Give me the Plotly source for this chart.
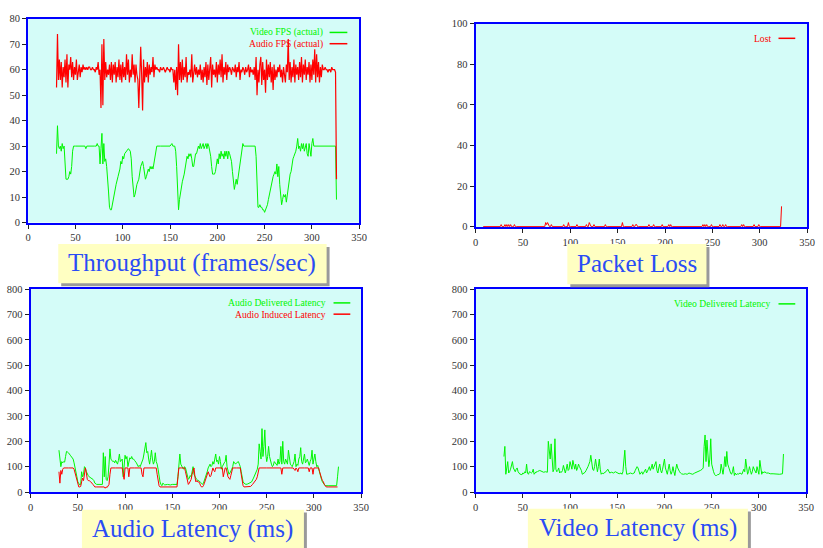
import plotly.graph_objects as go

# ---------------- data ----------------
audio_fps_t = list(range(30, 327))
audio_fps = [
    53, 74, 56, 64, 56, 63, 53, 61, 57, 64,
    55, 66, 53, 62, 60, 65, 57, 63, 56, 61,
    58, 64, 56, 60, 62, 57, 61, 59, 62, 60,
    61, 60, 61, 60, 61, 61, 60, 60, 61, 60,
    60, 59, 61, 60, 63, 58, 60, 45, 70, 46,
    72, 56, 63, 57, 60, 58, 62, 56, 63, 55,
    62, 58, 63, 55, 61, 57, 64, 56, 62, 55,
    63, 57, 61, 56, 66, 58, 64, 55, 60, 57,
    66, 58, 62, 55, 62, 58, 56, 45, 60, 69,
    58, 44, 64, 55, 61, 57, 63, 55, 62, 58,
    61, 59, 65, 57, 62, 60, 61, 60, 60, 59,
    61, 60, 60, 61, 60, 59, 60, 61, 60, 60,
    59, 61, 60, 60, 55, 60, 52, 61, 50, 70,
    56, 63, 55, 64, 56, 61, 57, 65, 55, 59,
    58, 60, 57, 66, 55, 60, 62, 58, 61, 57,
    60, 58, 62, 56, 60, 55, 61, 57, 63, 54,
    62, 56, 60, 65, 53, 62, 58, 60, 57, 63,
    55, 62, 58, 64, 57, 66, 55, 61, 58, 63,
    56, 62, 59, 61, 60, 58, 61, 60, 59, 62,
    57, 61, 59, 63, 56, 60, 59, 61, 60, 58,
    61, 59, 60, 62, 57, 61, 59, 60, 58, 61,
    56, 65, 50, 60, 55, 62, 65, 54, 63, 56,
    60, 51, 64, 56, 62, 57, 63, 55, 61, 52,
    62, 56, 60, 57, 61, 59, 62, 57, 60, 55,
    61, 58, 55, 62, 59, 72, 56, 63, 55, 61,
    57, 64, 55, 62, 58, 61, 56, 63, 57, 65,
    55, 62, 58, 64, 56, 61, 58, 63, 55, 62,
    56, 64, 58, 68, 55, 66, 57, 63, 55, 61,
    57, 62, 60, 60, 61, 60, 60, 59, 60, 60,
    59, 61, 60, 60, 60, 59, 17,
]

video_fps_t = [
    30, 31, 32, 33, 34, 35, 36, 37, 38, 39, 40, 41, 42, 43, 44, 45, 46, 47, 48, 50,
    55, 60, 61, 62, 70, 72, 73, 74, 75, 76, 77, 78, 79, 80, 81, 82, 83, 84, 85, 86,
    87, 88, 89, 90, 91, 93, 95, 97, 98, 99, 100, 101, 102, 104, 106, 108, 109, 110, 111, 112,
    113, 115, 117, 118, 119, 120, 121, 122, 123, 124, 125, 126, 127, 128, 129, 130, 131, 132, 133, 134,
    135, 136, 140, 145, 150, 152, 153, 155, 156, 157, 158, 159, 160, 161, 162, 163, 165, 166, 167, 168,
    169, 170, 171, 172, 173, 174, 175, 176, 177, 178, 179, 180, 181, 182, 183, 184, 185, 186, 187, 188,
    189, 190, 191, 192, 193, 194, 195, 196, 197, 198, 199, 200, 201, 202, 203, 204, 205, 206, 207, 208,
    209, 210, 211, 212, 213, 214, 215, 216, 217, 218, 219, 220, 221, 222, 223, 224, 225, 226, 227, 228,
    235, 240, 241, 242, 243, 244, 245, 246, 247, 248, 249, 250, 251, 252, 253, 254, 255, 256, 257, 258,
    259, 260, 261, 262, 263, 264, 265, 266, 267, 268, 269, 270, 271, 272, 273, 274, 275, 276, 277, 278,
    279, 280, 281, 282, 283, 284, 285, 286, 287, 288, 289, 290, 291, 292, 293, 294, 295, 296, 297, 298,
    299, 300, 301, 302, 310, 320, 325, 326,
]
video_fps = [
    27, 38, 30, 29, 30, 28, 31, 29, 30, 22, 17, 17, 17, 18, 20, 19, 22, 28, 30, 30,
    30, 30, 29, 30, 30, 30, 31, 30, 30, 23, 29, 35, 23, 31, 24, 25, 22, 18, 12, 6,
    5, 5, 7, 10, 12, 15, 18, 21, 24, 23, 26, 25, 27, 28, 29, 28, 25, 18, 13, 10,
    11, 15, 17, 20, 22, 23, 24, 22, 18, 17, 18, 20, 21, 20, 22, 21, 22, 21, 23, 25,
    28, 30, 30, 30, 30, 31, 30, 30, 28, 22, 12, 5, 9, 12, 14, 16, 19, 22, 25, 26,
    25, 27, 26, 27, 25, 22, 22, 25, 27, 27, 29, 30, 29, 31, 29, 30, 31, 29, 30, 31,
    29, 31, 30, 28, 26, 22, 19, 19, 19, 20, 22, 25, 23, 27, 25, 28, 26, 27, 25, 28,
    26, 28, 25, 28, 27, 25, 24, 20, 16, 13, 15, 17, 15, 18, 20, 22, 25, 28, 31, 30,
    30, 30, 26, 15, 6, 6, 7, 6, 6, 5, 5, 4, 5, 6, 7, 9, 11, 12, 14, 16,
    18, 19, 20, 19, 23, 18, 22, 15, 10, 7, 9, 11, 10, 11, 8, 11, 14, 17, 19, 20,
    23, 25, 26, 27, 28, 30, 33, 29, 30, 28, 31, 29, 31, 28, 30, 31, 27, 26, 31, 29,
    26, 31, 33, 30, 30, 30, 30, 9,
]

loss_start, loss_end = 8, 323
loss_spike_t = [27, 31, 33, 35, 37, 41, 74, 75, 76, 77, 80, 93, 98, 107, 117, 120, 121, 125, 137, 155,
                166, 169, 170, 183, 188, 197, 204, 206, 240, 242, 244, 249, 258, 261, 264, 281, 283, 294, 299, 323]
loss_spike_v = [1, 1, 1, 1, 1, 1, 2, 1, 2, 1, 1, 1, 2, 1, 1, 2, 1, 1, 1, 2,
                1, 1, 1, 1, 1, 1, 1, 1, 1, 1, 1, 1, 1, 1, 1, 1, 1, 1, 1, 10]

aud_del_t = [
    30, 31, 32, 33, 34, 35, 36, 37, 38, 39, 40, 42, 43, 44, 45, 46, 47, 48, 49, 50,
    51, 52, 53, 54, 55, 56, 57, 58, 59, 60, 61, 62, 63, 64, 65, 66, 67, 68, 70, 72,
    74, 75, 76, 77, 78, 79, 80, 81, 82, 83, 84, 85, 86, 87, 88, 89, 90, 91, 92, 93,
    94, 95, 96, 97, 98, 99, 100, 101, 102, 103, 104, 105, 106, 107, 108, 109, 110, 112, 114, 115,
    116, 117, 118, 119, 120, 121, 122, 123, 124, 125, 126, 127, 128, 129, 130, 131, 132, 133, 134, 135,
    136, 137, 138, 139, 140, 142, 145, 148, 150, 152, 154, 155, 156, 157, 158, 159, 160, 161, 162, 163,
    164, 165, 166, 167, 168, 169, 170, 171, 172, 173, 174, 175, 176, 177, 178, 179, 180, 181, 182, 183,
    184, 185, 186, 187, 188, 189, 190, 191, 192, 193, 194, 195, 196, 197, 198, 199, 200, 201, 202, 203,
    204, 205, 206, 207, 208, 209, 210, 211, 212, 213, 214, 215, 216, 217, 218, 219, 220, 221, 222, 223,
    224, 225, 226, 228, 230, 232, 234, 236, 238, 240, 241, 242, 243, 244, 245, 246, 247, 248, 249, 250,
    251, 252, 253, 254, 255, 256, 257, 258, 259, 260, 261, 262, 263, 264, 265, 266, 267, 268, 269, 270,
    271, 272, 273, 274, 275, 276, 277, 278, 279, 280, 281, 282, 283, 284, 285, 286, 287, 288, 289, 290,
    291, 292, 293, 294, 295, 296, 297, 298, 299, 300, 301, 302, 303, 304, 305, 306, 307, 308, 309, 310,
    311, 312, 315, 318, 320, 322, 324, 325, 326,
]
aud_del = [
    165, 130, 100, 120, 115, 120, 118, 140, 160, 158, 155, 145, 140, 135, 130, 115, 100, 80, 60, 40,
    30, 28, 30, 80, 60, 70, 100, 95, 80, 70, 65, 60, 58, 55, 55, 50, 45, 35, 30, 30,
    30, 32, 30, 155, 60, 140, 50, 45, 60, 110, 170, 130, 125, 120, 122, 115, 125, 115, 110, 125,
    150, 120, 125, 130, 60, 110, 145, 130, 140, 100, 125, 135, 130, 140, 130, 130, 125, 115, 100, 105,
    100, 110, 120, 130, 150, 170, 195, 155, 160, 130, 110, 135, 165, 130, 110, 120, 155, 120, 110, 90,
    55, 40, 30, 25, 35, 28, 30, 28, 30, 30, 28, 30, 60, 120, 150, 110, 100, 95, 90, 100,
    95, 80, 60, 50, 55, 65, 60, 80, 100, 70, 60, 55, 50, 45, 45, 40, 38, 35, 30, 35,
    45, 60, 70, 80, 95, 100, 110, 100, 105, 120, 110, 130, 150, 120, 125, 110, 140, 120, 90, 100,
    110, 115, 120, 145, 100, 85, 70, 75, 80, 90, 100, 120, 115, 110, 115, 118, 120, 110, 100, 80,
    55, 40, 35, 30, 32, 35, 40, 55, 75, 90, 110, 190, 160, 130, 250, 140, 180, 245, 150, 120,
    140, 180, 140, 120, 110, 100, 105, 120, 115, 110, 105, 130, 110, 120, 180, 110, 200, 120, 110, 130,
    115, 110, 165, 120, 110, 105, 100, 110, 120, 150, 100, 110, 105, 130, 140, 175, 120, 110, 130, 150,
    115, 120, 130, 110, 105, 120, 130, 165, 110, 130, 150, 120, 100, 105, 90, 70, 60, 50, 40, 35,
    30, 25, 25, 25, 24, 25, 25, 60, 100,
]

aud_ind_t = [
    30, 31, 32, 33, 34, 35, 40, 45, 46, 47, 48, 49, 50, 51, 52, 53, 54, 55, 56, 57,
    58, 59, 60, 61, 62, 63, 64, 65, 66, 67, 68, 70, 75, 78, 79, 80, 81, 82, 83, 84,
    85, 90, 97, 98, 99, 100, 103, 104, 105, 110, 117, 118, 119, 120, 125, 130, 133, 134, 135, 136,
    137, 140, 145, 150, 155, 156, 157, 160, 163, 164, 165, 166, 167, 168, 169, 170, 171, 172, 173, 174,
    175, 176, 177, 178, 179, 180, 181, 182, 183, 184, 185, 186, 187, 188, 189, 190, 191, 192, 193, 194,
    195, 196, 200, 203, 204, 205, 206, 207, 208, 209, 210, 211, 212, 213, 214, 218, 222, 223, 224, 225,
    226, 230, 233, 235, 237, 239, 240, 241, 242, 250, 260, 265, 266, 267, 275, 278, 279, 280, 281, 282,
    283, 284, 290, 294, 295, 296, 298, 299, 300, 305, 306, 307, 308, 309, 310, 311, 312, 313, 315, 320,
    325,
]
aud_ind = [
    80, 35, 85, 70, 90, 95, 95, 95, 90, 75, 60, 40, 25, 20, 20, 22, 40, 55, 45, 70,
    95, 75, 50, 45, 45, 42, 40, 35, 30, 25, 20, 20, 20, 20, 15, 20, 18, 25, 30, 70,
    95, 95, 95, 70, 50, 95, 95, 60, 95, 95, 95, 70, 60, 95, 95, 95, 95, 70, 45, 25,
    20, 20, 20, 20, 20, 60, 95, 95, 95, 80, 60, 40, 30, 35, 45, 50, 70, 85, 95, 60,
    40, 45, 40, 40, 35, 25, 20, 20, 25, 35, 45, 55, 65, 80, 70, 60, 65, 80, 95, 85,
    80, 95, 95, 95, 60, 80, 95, 95, 70, 60, 55, 50, 65, 80, 95, 95, 95, 70, 40, 25,
    20, 20, 22, 30, 40, 50, 60, 80, 95, 95, 95, 95, 70, 95, 95, 95, 90, 85, 95, 90,
    80, 95, 95, 95, 80, 95, 95, 70, 95, 95, 80, 60, 55, 45, 40, 30, 25, 20, 20, 20,
    20,
]

vid_del_t = [
    30, 31, 32, 33, 34, 35, 36, 37, 38, 39, 40, 41, 42, 43, 44, 45, 46, 47, 48, 49,
    50, 51, 52, 53, 54, 55, 56, 57, 58, 59, 60, 61, 62, 63, 64, 65, 66, 68, 70, 72,
    74, 76, 77, 78, 79, 80, 81, 82, 83, 84, 85, 86, 87, 88, 89, 90, 91, 92, 93, 94,
    95, 96, 97, 98, 99, 100, 101, 102, 103, 104, 105, 106, 107, 108, 109, 110, 111, 112, 113, 114,
    115, 116, 117, 118, 119, 120, 121, 122, 123, 124, 125, 126, 127, 128, 129, 130, 131, 132, 133, 134,
    135, 136, 138, 140, 141, 142, 144, 146, 148, 150, 152, 154, 155, 156, 157, 158, 159, 160, 162, 164,
    166, 168, 169, 170, 171, 172, 173, 174, 175, 176, 177, 178, 179, 180, 181, 182, 183, 184, 185, 186,
    187, 188, 189, 190, 191, 192, 193, 194, 195, 196, 197, 198, 199, 200, 201, 202, 203, 204, 205, 206,
    207, 208, 209, 210, 211, 212, 213, 214, 215, 216, 217, 218, 220, 222, 224, 226, 228, 230, 232, 234,
    236, 238, 240, 241, 242, 243, 244, 245, 246, 247, 248, 249, 250, 251, 252, 253, 254, 255, 256, 258,
    259, 260, 261, 262, 263, 264, 265, 266, 267, 268, 269, 270, 271, 272, 273, 274, 275, 276, 277, 278,
    280, 282, 284, 285, 286, 287, 288, 289, 290, 291, 292, 293, 294, 295, 296, 297, 298, 299, 300, 301,
    302, 303, 304, 305, 306, 308, 310, 312, 315, 318, 320, 322, 325, 326,
]
vid_del = [
    140, 180, 70, 100, 120, 75, 80, 90, 115, 120, 95, 85, 80, 90, 95, 80, 75, 70, 70, 68,
    75, 72, 80, 75, 110, 75, 70, 80, 78, 75, 78, 90, 70, 75, 80, 78, 82, 85, 80, 78,
    80, 78, 200, 150, 130, 190, 110, 80, 90, 210, 90, 80, 85, 95, 75, 80, 78, 85, 105, 80,
    75, 90, 110, 85, 90, 120, 95, 90, 125, 100, 90, 110, 85, 95, 110, 100, 95, 85, 70, 72,
    75, 78, 85, 90, 100, 110, 120, 145, 110, 90, 85, 100, 130, 95, 80, 100, 130, 90, 70, 75,
    72, 75, 80, 90, 80, 75, 78, 75, 80, 75, 72, 75, 70, 80, 120, 165, 100, 70, 72, 75,
    72, 75, 85, 95, 100, 95, 85, 70, 75, 80, 70, 75, 85, 90, 75, 80, 90, 100, 85, 95,
    110, 90, 100, 115, 120, 85, 75, 95, 110, 85, 75, 90, 110, 130, 95, 85, 70, 90, 110, 85,
    70, 80, 100, 80, 65, 90, 110, 95, 85, 80, 75, 72, 70, 72, 70, 75, 72, 70, 75, 78,
    80, 85, 90, 95, 180, 225, 120, 205, 150, 100, 130, 210, 110, 90, 80, 70, 65, 65, 68, 70,
    75, 110, 90, 70, 100, 140, 100, 160, 110, 95, 80, 75, 70, 80, 100, 65, 75, 68, 72, 70,
    75, 70, 90, 80, 130, 90, 70, 80, 100, 85, 70, 80, 100, 90, 80, 75, 100, 85, 70, 125,
    90, 70, 80, 75, 80, 75, 75, 72, 72, 70, 70, 70, 72, 150,
]

# build packet loss per-second series from the spike table
spike_map = dict(zip(loss_spike_t, loss_spike_v))
loss_t = list(range(loss_start, loss_end + 1))
loss_v = [spike_map.get(t, 0) for t in loss_t]

# ---------------- style ----------------
W, H = 823, 548
GREEN = "#00f500"
RED = "#ff0000"
BG = "#d4fcf8"
FRAME = "#0000ff"
SERIF = "Times New Roman, Liberation Serif, serif"
TICKFONT = dict(family=SERIF, size=10.5, color="#333333")

def px(x):
    return x / W

def py(y):
    return 1 - y / H

panels = {
    # name: (x0, x1, y0(top), y1(bottom)) in pixels
    "1": (25.5, 361, 14, 222),
    "2": (479, 815, 19, 227),
    "3": (28, 363, 290, 497),
    "4": (479, 814, 290, 497),
}
yranges = {"1": (0, 80, 10), "2": (-0.4, 100, 20), "3": (0, 800, 100), "4": (0, 800, 100)}

fig = go.Figure()

def add_line(t, v, color, ax, width=1):
    fig.add_trace(go.Scatter(
        x=t, y=v, mode="lines", line=dict(color=color, width=width),
        xaxis="x" + ("" if ax == "1" else ax), yaxis="y" + ("" if ax == "1" else ax),
        showlegend=False, hoverinfo="skip"))

add_line(video_fps_t, video_fps, GREEN, "1")
add_line(audio_fps_t, audio_fps, RED, "1", 1.2)
add_line(loss_t, loss_v, RED, "2")
add_line(aud_del_t, aud_del, GREEN, "3")
add_line(aud_ind_t, aud_ind, RED, "3")
add_line(vid_del_t, vid_del, GREEN, "4")

layout = dict(
    width=W, height=H, margin=dict(l=0, r=0, t=0, b=0),
    paper_bgcolor="white", plot_bgcolor=BG, showlegend=False,
    font=dict(family=SERIF, size=11, color="#333333"),
)
for k, (x0, x1, yt, yb) in panels.items():
    suf = "" if k == "1" else k
    lo, hi, dt = yranges[k]
    layout["xaxis" + suf] = dict(
        domain=[px(x0), px(x1)], range=[0, 350], dtick=50, tick0=0,
        anchor="y" + suf, showgrid=False, zeroline=False,
        showline=True, mirror=True, linecolor=FRAME, linewidth=2,
        ticks="outside", ticklen=4, tickcolor="#222222", tickwidth=1,
        tickfont=TICKFONT, fixedrange=True)
    layout["yaxis" + suf] = dict(
        domain=[py(yb), py(yt)], range=[lo, hi], dtick=dt, tick0=0,
        anchor="x" + suf, showgrid=False, zeroline=False,
        showline=True, mirror=True, linecolor=FRAME, linewidth=2,
        ticks="outside", ticklen=4, tickcolor="#222222", tickwidth=1,
        tickfont=TICKFONT, fixedrange=True)
fig.update_layout(**layout)

# ---------------- legends (text + sample line on the right) ----------------
legends = [
    ("Video FPS (actual)", GREEN, 326, 28, 331, 349),
    ("Audio FPS (actual)", RED, 326, 39.5, 331, 349),
    ("Lost", RED, 780, 34, 786, 803),
    ("Audio Delivered Latency", GREEN, 329, 304, 335, 352),
    ("Audio Induced Latency", RED, 329, 315.5, 335, 352),
    ("Video Delivered Latency", GREEN, 780, 305, 786, 803),
]
shapes = []
annotations = []
for text, col, tx, ty, lx0, lx1 in legends:
    annotations.append(dict(
        x=px(tx), y=py(ty), xref="paper", yref="paper", text=text, showarrow=False,
        xanchor="right", yanchor="middle", font=dict(family=SERIF, size=9.6, color=col)))
    shapes.append(dict(type="line", xref="paper", yref="paper",
                       x0=px(lx0), x1=px(lx1), y0=py(ty), y1=py(ty),
                       line=dict(color=col, width=1.5)))

# ---------------- panel title boxes ----------------
titles = [
    ("Throughput (frames/sec)", 56, 328, 244, 284),
    ("Packet Loss", 572, 713, 244, 285),
    ("Audio Latency (ms)", 80, 305, 515, 556),
    ("Video Latency (ms)", 532, 755, 514, 555),
]
for text, x0, x1, y0, y1 in titles:
    shapes.append(dict(type="rect", xref="paper", yref="paper",
                       x0=px(x0 + 3), x1=px(x1 + 3), y0=py(y1 + 3), y1=py(y0 + 3),
                       fillcolor="#9a9a9a", line=dict(width=0), layer="above"))
    shapes.append(dict(type="rect", xref="paper", yref="paper",
                       x0=px(x0), x1=px(x1), y0=py(y1), y1=py(y0),
                       fillcolor="#ffffc2", line=dict(width=0), layer="above"))
    annotations.append(dict(
        x=px((x0 + x1) / 2), y=py((y0 + y1) / 2 - 1), xref="paper", yref="paper",
        text=text, showarrow=False, xanchor="center", yanchor="middle",
        font=dict(family=SERIF, size=25, color="#2a4cf5")))

fig.update_layout(shapes=shapes, annotations=annotations)
fig.write_html("out.html")
